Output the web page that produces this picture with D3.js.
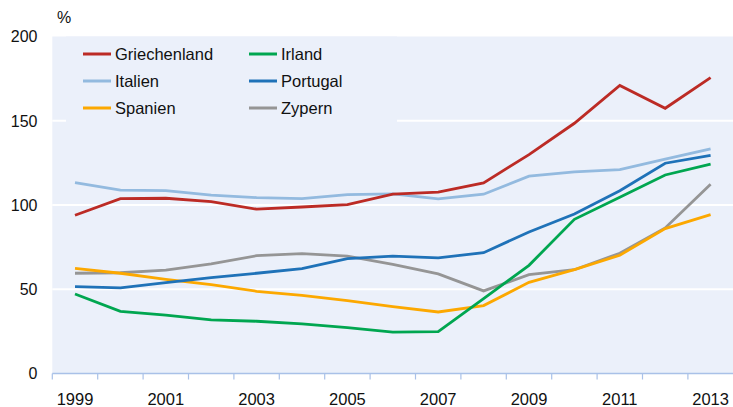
<!DOCTYPE html>
<html>
<head>
<meta charset="utf-8">
<script src="https://cdn.jsdelivr.net/npm/d3@7"></script>
<style>
  body { margin: 0; background: #fff; }
  svg { display: block; font-family: "Liberation Sans", Arial, sans-serif; }
</style>
</head>
<body>
<div id="chart"></div>
<script>
// years and series (in % of GDP)
var years = [1999,2000,2001,2002,2003,2004,2005,2006,2007,2008,2009,2010,2011,2012,2013];
var yTicks = [0, 50, 100, 150, 200];

var griechenland = [93.9,103.8,104.0,102.0,97.5,98.8,100.2,106.4,107.7,113.1,129.9,148.5,170.9,157.4,175.6];
var irland       = [47.2,36.9,34.7,31.8,31.0,29.4,27.2,24.6,24.8,44.4,64.2,91.5,104.6,117.8,124.2];
var italien      = [113.3,108.8,108.5,105.8,104.4,103.8,106.2,106.6,103.6,106.4,117.1,119.6,121.0,127.2,133.3];
var portugal     = [51.5,50.8,53.9,56.9,59.5,62.2,68.2,69.6,68.6,71.7,84.0,94.7,108.5,124.8,129.5];
var spanien      = [62.4,59.5,55.9,52.7,48.8,46.4,43.2,39.7,36.5,40.3,54.1,61.6,70.2,86.0,94.3];
var zypern       = [59.5,59.8,61.4,65.0,69.9,71.1,69.6,64.8,59.1,49.0,58.7,61.6,71.4,86.4,112.3];

var seriesNames = ["Griechenland","Irland","Italien","Portugal","Spanien","Zypern"];
var seriesColors = ["#bc2b25","#00a650","#93badf","#1f72b8","#fca800","#959595"];
var seriesValues = [griechenland, irland, italien, portugal, spanien, zypern];

var width = 733, height = 407;
var margin = {top: 36.5, right: 0, bottom: 33.5, left: 52.3};
var plotBg = "#ebf0fa";

var svg = d3.select("#chart").append("svg")
    .attr("width", width)
    .attr("height", height);

var x = d3.scaleBand()
    .domain(years)
    .range([margin.left, margin.left + years.length * 45.4])
    .padding(0);

var y = d3.scaleLinear()
    .domain([0, 200])
    .range([height - margin.bottom, margin.top]);

// plot background
svg.append("rect")
    .attr("x", margin.left)
    .attr("y", y(200))
    .attr("width", width - margin.left)
    .attr("height", y(0) - y(200))
    .attr("fill", plotBg);

// gridlines
svg.selectAll("line.grid")
    .data(yTicks.filter(function(d) { return d > 0 && d < 200; }))
    .enter().append("line")
    .attr("class", "grid")
    .attr("x1", margin.left)
    .attr("x2", width)
    .attr("y1", function(d) { return y(d); })
    .attr("y2", function(d) { return y(d); })
    .attr("stroke", "#fff")
    .attr("stroke-width", 2);

// legend box hides the gridline behind it
svg.append("rect")
    .attr("x", 66)
    .attr("y", y(200))
    .attr("width", 331)
    .attr("height", 90)
    .attr("fill", plotBg);

// y tick labels
svg.selectAll("text.ylab")
    .data(yTicks)
    .enter().append("text")
    .attr("class", "ylab")
    .attr("x", 37.5)
    .attr("y", function(d) { return y(d); })
    .attr("dy", "0.36em")
    .attr("text-anchor", "end")
    .style("font-size", "16px")
    .attr("fill", "#111")
    .text(function(d) { return d; });

svg.append("text")
    .attr("x", 57)
    .attr("y", 23)
    .style("font-size", "16px")
    .attr("fill", "#111")
    .text("%");

// x axis line + ticks at band edges
svg.append("line")
    .attr("x1", margin.left)
    .attr("x2", width)
    .attr("y1", y(0))
    .attr("y2", y(0))
    .attr("stroke", "#a9c1e8")
    .attr("stroke-width", 1.5);

svg.selectAll("line.xtick")
    .data(years)
    .enter().append("line")
    .attr("class", "xtick")
    .attr("x1", function(d) { return x(d); })
    .attr("x2", function(d) { return x(d); })
    .attr("y1", y(0))
    .attr("y2", y(0) + 6)
    .attr("stroke", "#a9c1e8")
    .attr("stroke-width", 1.2);

var xAxis = svg.append("g")
    .attr("transform", "translate(0," + (y(0) + 10) + ")")
    .call(d3.axisBottom(x)
      .tickValues(years.filter(function(d) { return d % 2 === 1; }))
      .tickSize(0)
      .tickPadding(0));
xAxis.select(".domain").remove();
xAxis.selectAll("text")
    .attr("dy", "0")
    .attr("y", 21.5)
    .style("font-family", "Liberation Sans, Arial, sans-serif")
    .style("font-size", "16.5px")
    .attr("fill", "#111");

// lines
var line = d3.line()
    .x(function(d, i) { return x(years[i]) + x.bandwidth() / 2; })
    .y(function(d) { return y(d); });

// draw order: back to front
var order = [5, 4, 1, 3, 2, 0];
order.forEach(function(k) {
  svg.append("path")
      .datum(seriesValues[k])
      .attr("fill", "none")
      .attr("stroke", seriesColors[k])
      .attr("stroke-width", 2.8)
      .attr("stroke-linejoin", "miter")
      .attr("d", line);
});

// legend
var legend = svg.selectAll("g.legend")
    .data(seriesNames)
    .enter().append("g")
    .attr("class", "legend")
    .attr("transform", function(d, i) {
      return "translate(" + (i % 2 === 0 ? 83 : 249) + "," + (54 + Math.floor(i / 2) * 27) + ")";
    });

legend.append("line")
    .attr("x1", 0)
    .attr("x2", 28)
    .attr("stroke", function(d, i) { return seriesColors[i]; })
    .attr("stroke-width", 3);

legend.append("text")
    .attr("x", 32)
    .attr("dy", "0.36em")
    .style("font-size", "16.5px")
    .attr("fill", "#111")
    .text(function(d) { return d; });
</script>
</body>
</html>
